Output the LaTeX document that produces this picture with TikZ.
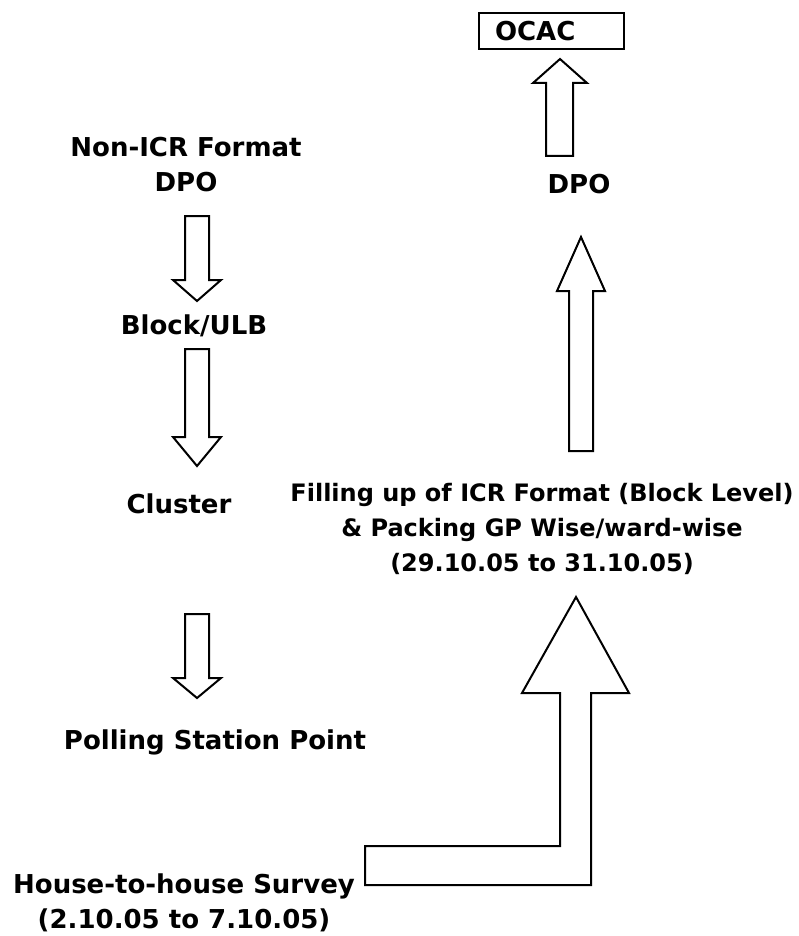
\documentclass[tikz,border=0pt]{standalone}
\usepackage{fontspec}
\setmainfont{DejaVu Sans}

\begin{document}
\begin{tikzpicture}[
x=1pt, y=-1pt,
lbl/.style={align=center, inner sep=0pt, font=\bfseries\fontsize{26}{35}\selectfont},
box/.style={draw, line width=2pt, minimum width=145pt, minimum height=36pt, text width=113pt, align=left, font=\bfseries\fontsize{26}{30}\selectfont},
blk/.style={draw, line width=2pt, line join=miter, fill=white}
]
\useasboundingbox (0,0) rectangle (799,936);
% left column
\node[lbl] (nonicr) at (186,165) {Non-ICR Format\\DPO};
\node[lbl] (block) at (194,326) {Block/ULB};
\node[lbl] (cluster) at (179,504) {Cluster};
\node[lbl] (polling) at (215,742) {Polling Station Point};
\node[lbl] (survey) at (184,903) {House-to-house Survey\\(2.10.05 to 7.10.05)};
% right column
\node[box] (ocac) at (551.5,31) {OCAC};
\node[lbl] (dpo) at (579,184) {DPO};
\node[lbl, font=\bfseries\fontsize{24}{35}\selectfont] (filling) at (542,529) {Filling up of ICR Format (Block Level)\\\& Packing GP Wise/ward-wise\\(29.10.05 to 31.10.05)};
% block arrows down
\draw[blk] (185,216) -- (209,216) -- (209,280) -- (221,280) -- (197,301) -- (173,280) -- (185,280) -- cycle;
\draw[blk] (185,349) -- (209,349) -- (209,437) -- (221,437) -- (197,466) -- (173,437) -- (185,437) -- cycle;
\draw[blk] (185,614) -- (209,614) -- (209,678) -- (221,678) -- (197,698) -- (173,678) -- (185,678) -- cycle;
% block arrows up
\draw[blk] (546,156) -- (546,83) -- (533,83) -- (560,59) -- (587,83) -- (573,83) -- (573,156) -- cycle;
\draw[blk] (569,451) -- (569,291) -- (557,291) -- (581,237) -- (605,291) -- (593,291) -- (593,451) -- cycle;
\draw[blk] (365,846) -- (560,846) -- (560,693) -- (522,693) -- (576,597) -- (629,693) -- (591,693) -- (591,885) -- (365,885) -- cycle;
\end{tikzpicture}
\end{document}
